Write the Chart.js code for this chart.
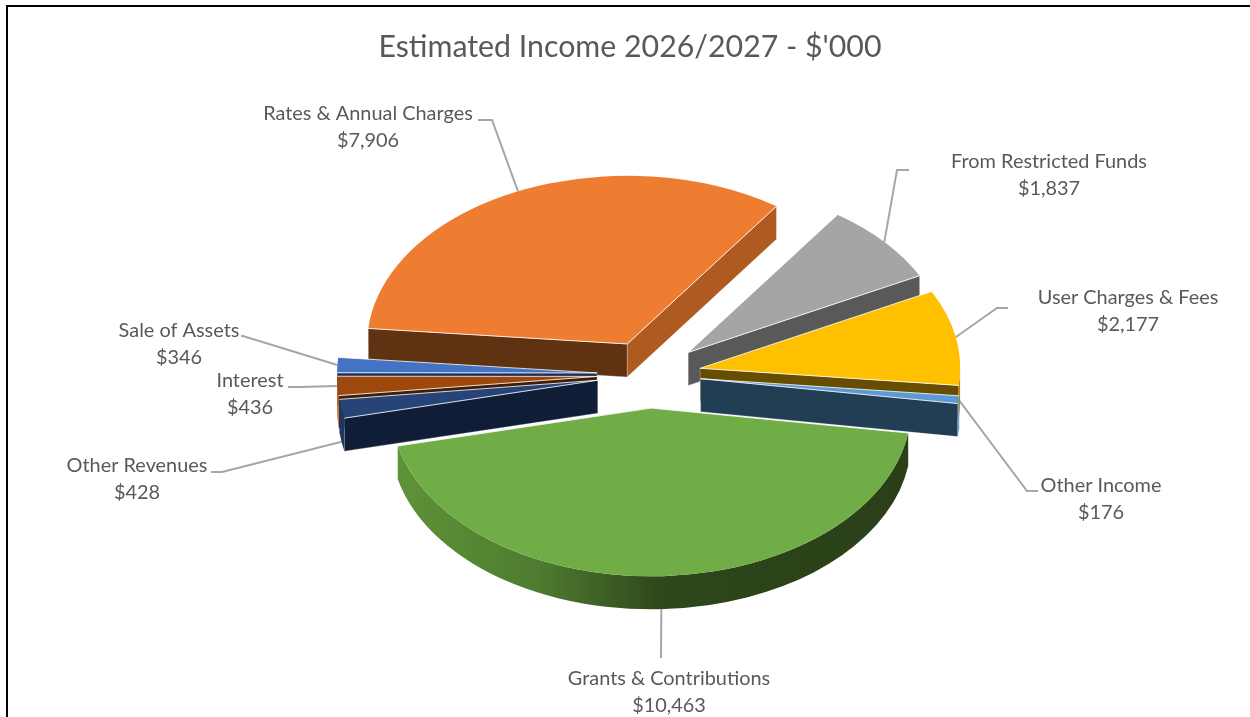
<!DOCTYPE html>
<html>
<head>
<meta charset="utf-8">
<title>Estimated Income</title>
<script src="https://cdn.jsdelivr.net/npm/chart.js@4"></script>
<style>
    body { margin: 0; background: #fff; overflow: hidden; }
    #frame { position: absolute; left: 6px; top: 5px; right: 0; bottom: 0; border-left: 2px solid #000; border-top: 2px solid #000; }
    #grafico { position: absolute; left: 0; top: 0; }
</style>
</head>
<body>
<div id="frame"></div>
<canvas id="grafico" width="1250" height="717"></canvas>
<script>
const tituloGrafico = "Estimated Income 2026/2027 - $'000";
const categorias = ['Rates & Annual Charges', 'From Restricted Funds', 'User Charges & Fees', 'Other Income', 'Grants & Contributions', 'Other Revenues', 'Interest', 'Sale of Assets'];
const valores = [7906, 1837, 2177, 176, 10463, 428, 436, 346];

// cores de cada fatia
const coresTopo = ['#ee7d31', '#a5a5a5', '#ffc000', '#5b9bd5', '#70ad47', '#264478', '#9e480e', '#4472c4'];
const coresCorteInicio = ['#5f3212', '#595959', '#664d00', '#223e55', '#2d451a', '#0f1e36', '#3f1d06', '#1c2e50'];
const coresCorteFim = ['#ae5a21', '#595959', '#664d00', '#223e55', '#2d451a', '#1c3057', '#6f3209', '#1c2e50'];
const coresBorda = ['#ae5a21', '#737373', '#b38600', '#6f9fc8', '#2d451a', '#1f3863', '#c0682a', '#30508a'];

// ordem de pintura, de tras para frente
const ordemDesenho = [0, 1, 2, 3, 7, 6, 5, 4];

// posicao dos rotulos e cotovelos das linhas guia
const rotulosX = [368, 1049, 1128, 1101, 669, 137, 250, 179];
const rotulosY = [114, 162, 298, 486, 679, 466, 381, 331];
const guiaCotovelos = [
    [[492, 120], [478, 120]],
    [[897, 170], [909, 170]],
    [[997, 308], [1008, 308]],
    [[1027, 491], [1038, 491]],
    [[661, 658]],
    [[222, 472], [211, 472]],
    [[300, 387], [288, 387]],
    [[243, 336], [241, 336]]
];
const guiaNaBase = [false, false, false, false, true, true, false, false];

const inclinacao = 0.647;
const profundidade = 33;
const explosao = 52;
const fonte = 'Lato, sans-serif';

function centroFatia(arco) {
    let meio = (arco.startAngle + arco.endAngle) / 2;
    return {
        x: arco.x + Math.cos(meio) * explosao,
        y: arco.y + Math.sin(meio) * explosao * inclinacao
    };
}

function pontoBorda(c, raio, angulo) {
    return { x: c.x + Math.cos(angulo) * raio, y: c.y + Math.sin(angulo) * raio * inclinacao };
}

function desenharCorte(ctx, c, p, cor) {
    ctx.beginPath();
    ctx.moveTo(c.x, c.y);
    ctx.lineTo(p.x, p.y);
    ctx.lineTo(p.x, p.y + profundidade);
    ctx.lineTo(c.x, c.y + profundidade);
    ctx.closePath();
    ctx.fillStyle = cor;
    ctx.fill();
    ctx.strokeStyle = 'rgba(255,255,255,0.35)';
    ctx.lineWidth = 0.75;
    ctx.stroke();
}

function desenharLateral(ctx, c, arco, i) {
    let raio = arco.outerRadius;
    for (let k = -1; k <= 1; k++) {
        let ini = Math.max(arco.startAngle, k * 2 * Math.PI);
        let fim = Math.min(arco.endAngle, k * 2 * Math.PI + Math.PI);
        if (ini >= fim) continue;

        ctx.beginPath();
        ctx.ellipse(c.x, c.y, raio, raio * inclinacao, 0, ini, fim);
        ctx.ellipse(c.x, c.y + profundidade, raio, raio * inclinacao, 0, fim, ini, true);
        ctx.closePath();
        if (i == 4) {
            let grad = ctx.createLinearGradient(c.x - raio, 0, c.x + raio, 0);
            grad.addColorStop(0, '#5f9338');
            grad.addColorStop(0.28, '#4f7c30');
            grad.addColorStop(0.52, '#2e471b');
            grad.addColorStop(1, '#2a3f18');
            ctx.fillStyle = grad;
        } else {
            ctx.fillStyle = coresBorda[i];
        }
        ctx.fill();
    }
}

function desenharTopo(ctx, c, arco, i) {
    let raio = arco.outerRadius;
    ctx.beginPath();
    ctx.moveTo(c.x, c.y);
    ctx.ellipse(c.x, c.y, raio, raio * inclinacao, 0, arco.startAngle, arco.endAngle);
    ctx.closePath();
    ctx.fillStyle = coresTopo[i];
    ctx.fill();

    let a = pontoBorda(c, raio, arco.startAngle);
    let b = pontoBorda(c, raio, arco.endAngle);
    ctx.beginPath();
    ctx.moveTo(a.x, a.y);
    ctx.lineTo(c.x, c.y);
    ctx.lineTo(b.x, b.y);
    ctx.strokeStyle = 'rgba(255,255,255,0.8)';
    ctx.lineWidth = 1;
    ctx.stroke();
}

const pizza3d = {
    id: 'pizza3d',
    beforeDatasetsDraw(chart) {
        const ctx = chart.ctx;
        const arcos = chart.getDatasetMeta(0).data;

        // titulo
        ctx.save();
        ctx.textAlign = 'center';
        ctx.textBaseline = 'middle';
        ctx.fillStyle = '#595959';
        ctx.font = '30.3px ' + fonte;
        ctx.fillText(tituloGrafico, 630, 47);

        // linhas guia ficam por baixo das fatias
        ctx.strokeStyle = '#a6a6a6';
        ctx.lineWidth = 2;
        arcos.forEach((arco, i) => {
            let c = centroFatia(arco);
            let p = pontoBorda(c, arco.outerRadius, (arco.startAngle + arco.endAngle) / 2);
            ctx.beginPath();
            ctx.moveTo(p.x, p.y + (guiaNaBase[i] ? profundidade : 0));
            guiaCotovelos[i].forEach(q => ctx.lineTo(q[0], q[1]));
            ctx.stroke();
        });

        // rotulos
        ctx.font = '19.9px ' + fonte;
        categorias.forEach((nome, i) => {
            ctx.fillText(nome, rotulosX[i], rotulosY[i]);
            ctx.fillText('$' + valores[i].toLocaleString('en-US'), rotulosX[i], rotulosY[i] + 26.5);
        });

        ordemDesenho.forEach(i => {
            let arco = arcos[i];
            let c = centroFatia(arco);
            // so desenha as faces de corte viradas para a frente
            if (Math.cos(arco.endAngle) > 0) {
                desenharCorte(ctx, c, pontoBorda(c, arco.outerRadius, arco.endAngle), coresCorteFim[i]);
            }
            if (Math.cos(arco.startAngle) < 0) {
                desenharCorte(ctx, c, pontoBorda(c, arco.outerRadius, arco.startAngle), coresCorteInicio[i]);
            }
            desenharLateral(ctx, c, arco, i);
            desenharTopo(ctx, c, arco, i);
        });
        ctx.restore();
        return false;
    }
};

new Chart(document.getElementById('grafico'), {
    type: 'pie',
    data: {
        labels: categorias,
        datasets: [{
            data: valores,
            backgroundColor: coresTopo,
            borderWidth: 0
        }]
    },
    options: {
        responsive: false,
        animation: false,
        rotation: -84.7,
        radius: 260,
        layout: { padding: { left: 48, top: 32 } },
        plugins: {
            legend: { display: false },
            tooltip: { enabled: false },
            title: { display: false }
        }
    },
    plugins: [pizza3d]
});
</script>
</body>
</html>
